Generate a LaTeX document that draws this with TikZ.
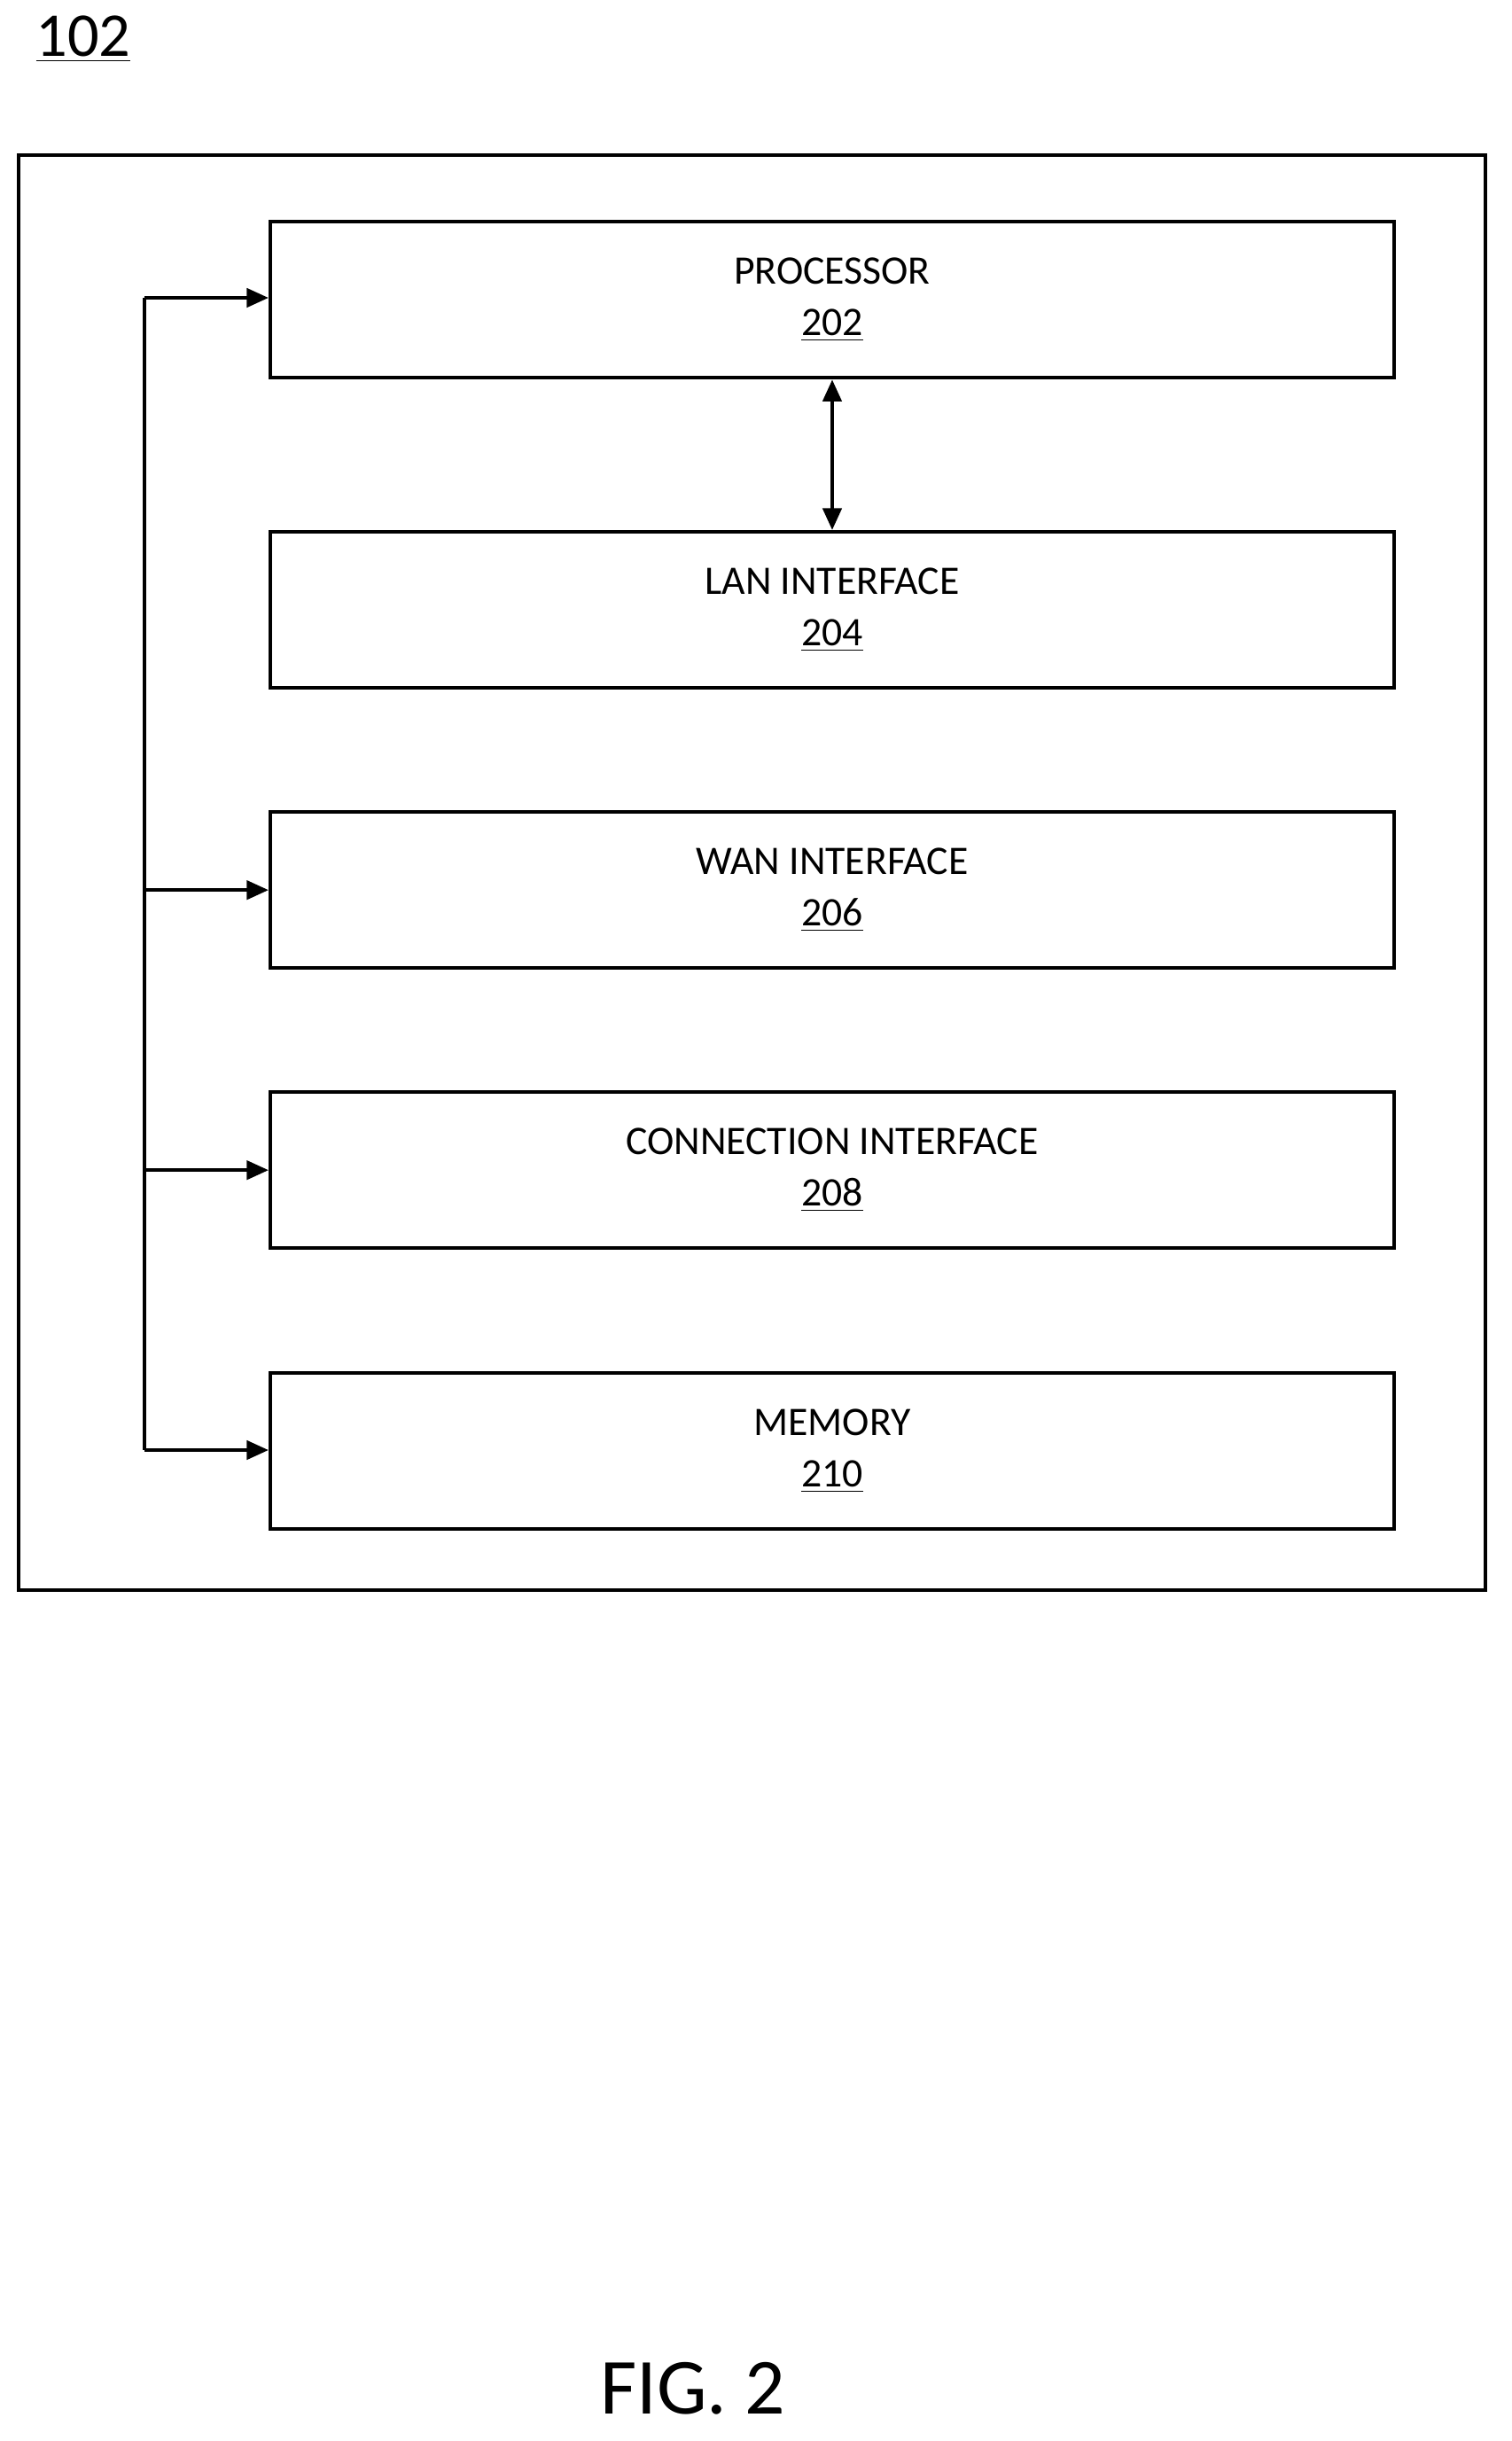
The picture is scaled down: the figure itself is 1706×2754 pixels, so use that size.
\documentclass[tikz,border=0pt]{standalone}
\usepackage{fontspec}
\setmainfont{Carlito}
\usetikzlibrary{arrows.meta}
\begin{document}
\begin{tikzpicture}[x=0.01cm,y=-0.01cm,
  blk/.style={draw,line width=1.2pt,minimum width=12.67cm,minimum height=1.76cm,
    align=center,font=\fontsize{13}{16.5}\selectfont,anchor=north west},
  arr/.style={line width=1.2pt,-{Triangle[length=7pt,width=6pt]}}]
\useasboundingbox (0,0) rectangle (1706,2754);
\node[font=\fontsize{20}{22}\selectfont] (ref) at (94,44) {\underline{102}};
\draw[line width=1.2pt] (21,175) rectangle (1676,1794);
\node[blk] (proc) at (303,248) {PROCESSOR\\\underline{202}};
\node[blk] (lan) at (303,598) {LAN INTERFACE\\\underline{204}};
\node[blk] (wan) at (303,914) {WAN INTERFACE\\\underline{206}};
\node[blk] (conn) at (303,1230) {CONNECTION INTERFACE\\\underline{208}};
\node[blk] (mem) at (303,1547) {MEMORY\\\underline{210}};
% bus on the left
\coordinate (top) at (163,336);
\coordinate (bot) at (163,1636);
\draw[line width=1.2pt] (top) -- (bot);
\draw[arr] (top) -- (top -| proc.west);
\draw[arr] (wan.west -| top) -- (wan.west);
\draw[arr] (conn.west -| top) -- (conn.west);
\draw[arr] (bot) -- (bot -| mem.west);
\draw[line width=1.2pt,{Triangle[length=7pt,width=6pt]}-{Triangle[length=7pt,width=6pt]}] (proc.south) -- (lan.north);
\node[font=\fontsize{25.5}{28}\selectfont] (fig) at (782,2695) {FIG. 2};
\end{tikzpicture}
\end{document}
